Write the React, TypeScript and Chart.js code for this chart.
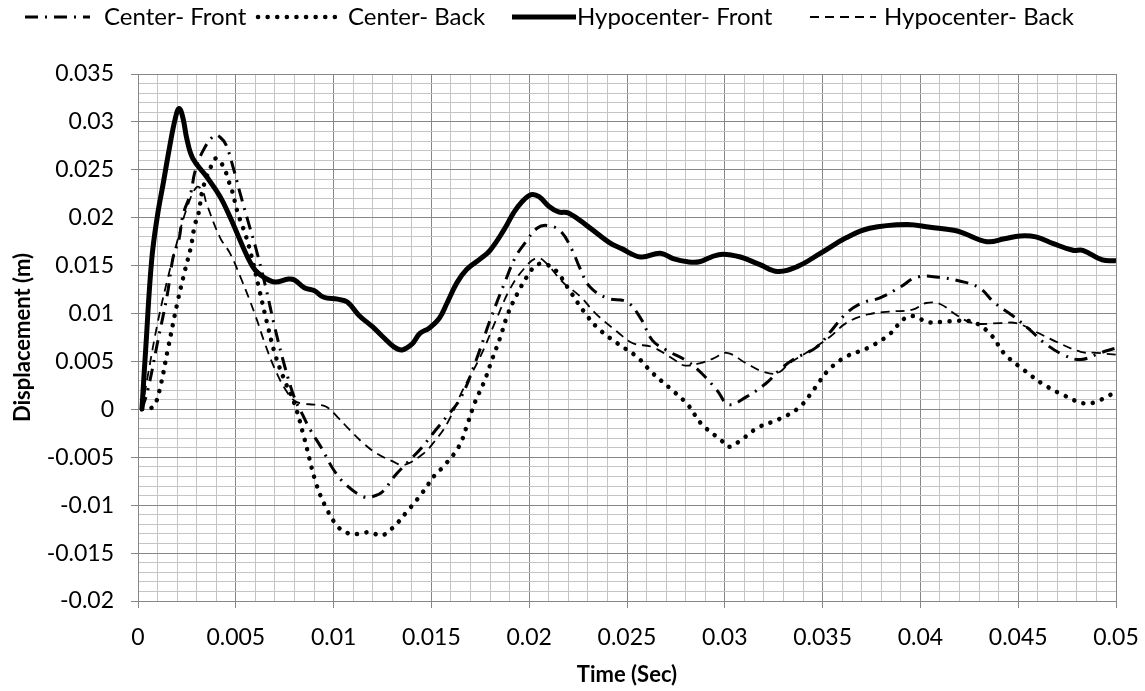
import React, { useEffect, useRef } from "react";
import { Chart, registerables } from "chart.js";

Chart.register(...registerables);

// ---------- data ----------
const SERIES_LABELS = ["Center- Front", "Center- Back", "Hypocenter- Front", "Hypocenter- Back"];

const T_CF = [0.0002, 0.0005, 0.001, 0.0015, 0.0018, 0.0021, 0.0023, 0.0027, 0.0029, 0.0033, 0.0039, 0.0042, 0.0045, 0.0049, 0.0052, 0.0057, 0.006, 0.0065, 0.007, 0.0075, 0.008, 0.0084, 0.0088, 0.0094, 0.01, 0.0106, 0.0115, 0.012, 0.0125, 0.0131, 0.0138, 0.0145, 0.0152, 0.0158, 0.0165, 0.0173, 0.018, 0.0188, 0.0193, 0.0198, 0.0204, 0.0209, 0.0216, 0.0222, 0.0226, 0.0231, 0.024, 0.025, 0.0257, 0.0263, 0.027, 0.0281, 0.0288, 0.0296, 0.0302, 0.0311, 0.0321, 0.0328, 0.0335, 0.0347, 0.0354, 0.0362, 0.037, 0.0379, 0.039, 0.0398, 0.0409, 0.042, 0.043, 0.0438, 0.0447, 0.0456, 0.0463, 0.0473, 0.0482, 0.0492, 0.05];
const Y_CF = [0, 0.002, 0.007, 0.012, 0.0159, 0.0178, 0.0203, 0.0226, 0.0247, 0.0269, 0.0286, 0.0284, 0.0276, 0.025, 0.0227, 0.0191, 0.017, 0.013, 0.0085, 0.0045, 0.0012, -0.0005, -0.0021, -0.0041, -0.0063, -0.0078, -0.0091, -0.0091, -0.0086, -0.007, -0.0055, -0.004, -0.0022, -0.0007, 0.0012, 0.0052, 0.0093, 0.0135, 0.0159, 0.0174, 0.0189, 0.0192, 0.0186, 0.0166, 0.0147, 0.0128, 0.0116, 0.0112, 0.0095, 0.0072, 0.0062, 0.005, 0.0038, 0.002, 0.0005, 0.0013, 0.0027, 0.0041, 0.0052, 0.0065, 0.0081, 0.01, 0.0111, 0.0116, 0.0128, 0.0138, 0.0138, 0.0134, 0.0127, 0.0111, 0.0098, 0.0083, 0.007, 0.0057, 0.0052, 0.0059, 0.0064];

const T_CB = [0.0002, 0.0005, 0.0008, 0.0011, 0.0015, 0.002, 0.0024, 0.0027, 0.0029, 0.0031, 0.0033, 0.0037, 0.004, 0.0044, 0.0046, 0.0048, 0.0051, 0.0055, 0.0058, 0.0062, 0.0066, 0.007, 0.0075, 0.008, 0.0085, 0.0091, 0.0096, 0.0102, 0.0107, 0.0113, 0.0119, 0.0124, 0.013, 0.0137, 0.0145, 0.0152, 0.0156, 0.0164, 0.0168, 0.0172, 0.0177, 0.0181, 0.0185, 0.0189, 0.0194, 0.02, 0.0204, 0.0209, 0.0214, 0.0221, 0.0228, 0.0235, 0.0245, 0.0255, 0.0263, 0.0272, 0.0281, 0.0288, 0.0298, 0.0302, 0.0307, 0.0317, 0.0328, 0.0338, 0.0346, 0.0353, 0.0362, 0.0373, 0.0384, 0.0392, 0.0398, 0.0403, 0.0415, 0.0427, 0.0436, 0.0443, 0.0453, 0.0463, 0.0473, 0.0484, 0.049, 0.0495, 0.05];
const Y_CB = [0, 0.0001, 0.0003, 0.002, 0.006, 0.011, 0.0145, 0.0169, 0.0192, 0.0205, 0.0229, 0.0252, 0.0262, 0.0252, 0.024, 0.0229, 0.0205, 0.0182, 0.016, 0.0125, 0.009, 0.0058, 0.003, 0.0006, -0.003, -0.0077, -0.0102, -0.0122, -0.0129, -0.013, -0.0128, -0.0132, -0.0124, -0.0108, -0.0088, -0.0068, -0.006, -0.0039, -0.0018, 0.0006, 0.0029, 0.0052, 0.0074, 0.0099, 0.0121, 0.0142, 0.0151, 0.0151, 0.0144, 0.0123, 0.0102, 0.0085, 0.0069, 0.0055, 0.0038, 0.0022, 0.0005, -0.0015, -0.0032, -0.0039, -0.0034, -0.0019, -0.001, 0.0002, 0.0022, 0.0041, 0.0055, 0.0064, 0.0078, 0.0095, 0.0097, 0.0091, 0.0092, 0.0091, 0.0078, 0.0058, 0.0041, 0.0026, 0.0015, 0.0006, 0.0008, 0.0013, 0.0018];

const T_HF = [0.0002, 0.0004, 0.0007, 0.001, 0.0013, 0.0016, 0.0019, 0.0021, 0.0023, 0.0025, 0.0028, 0.0035, 0.0042, 0.0047, 0.0056, 0.006, 0.0065, 0.007, 0.0077, 0.008, 0.0085, 0.009, 0.0095, 0.0102, 0.0107, 0.0113, 0.012, 0.0125, 0.0131, 0.0135, 0.014, 0.0144, 0.0149, 0.0154, 0.0158, 0.0163, 0.0168, 0.0175, 0.018, 0.0187, 0.0192, 0.0196, 0.0201, 0.0205, 0.021, 0.0215, 0.022, 0.023, 0.0241, 0.0247, 0.0257, 0.0267, 0.0274, 0.0281, 0.0287, 0.0293, 0.0299, 0.0308, 0.0318, 0.0327, 0.0337, 0.0349, 0.0362, 0.0374, 0.0393, 0.0405, 0.0417, 0.0422, 0.0434, 0.0443, 0.0451, 0.0459, 0.0468, 0.0478, 0.0483, 0.0493, 0.05];
const Y_HF = [0, 0.0065, 0.0156, 0.0203, 0.0237, 0.0272, 0.0303, 0.0314, 0.0304, 0.0282, 0.0262, 0.0243, 0.0222, 0.0201, 0.0159, 0.0145, 0.0137, 0.0133, 0.0136, 0.0135, 0.0127, 0.0124, 0.0117, 0.0115, 0.0112, 0.0098, 0.0086, 0.0076, 0.0065, 0.0062, 0.0068, 0.0079, 0.0085, 0.0095, 0.0111, 0.0132, 0.0146, 0.0157, 0.0166, 0.0187, 0.0205, 0.0216, 0.0224, 0.0222, 0.0212, 0.0206, 0.0205, 0.0191, 0.0174, 0.0168, 0.0159, 0.0163, 0.0157, 0.0154, 0.0154, 0.0159, 0.0162, 0.0159, 0.0151, 0.0144, 0.0149, 0.0163, 0.0179, 0.0189, 0.0193, 0.019, 0.0187, 0.0184, 0.0175, 0.0178, 0.0181, 0.018, 0.0173, 0.0166, 0.0166, 0.0156, 0.0155];

const T_HB = [0.0002, 0.0005, 0.001, 0.0015, 0.002, 0.0025, 0.003, 0.0033, 0.0035, 0.0042, 0.0047, 0.0053, 0.006, 0.0065, 0.007, 0.0075, 0.008, 0.0084, 0.009, 0.0096, 0.0102, 0.0108, 0.0115, 0.0122, 0.013, 0.0136, 0.0146, 0.0151, 0.0158, 0.0166, 0.0175, 0.0183, 0.019, 0.0197, 0.0204, 0.0209, 0.0217, 0.0226, 0.0234, 0.0245, 0.0253, 0.0263, 0.0274, 0.0279, 0.0287, 0.0294, 0.0301, 0.0311, 0.032, 0.0327, 0.0333, 0.0344, 0.0354, 0.0362, 0.0373, 0.0384, 0.0396, 0.0403, 0.041, 0.0418, 0.0427, 0.0441, 0.0449, 0.0459, 0.0469, 0.0482, 0.049, 0.05];
const Y_HB = [0, 0.0035, 0.009, 0.0135, 0.0175, 0.021, 0.0232, 0.0228, 0.0215, 0.0179, 0.0163, 0.0135, 0.0098, 0.0068, 0.0042, 0.0022, 0.0009, 0.0006, 0.0005, 0.0003, -0.0008, -0.0021, -0.0035, -0.0046, -0.0054, -0.0058, -0.0046, -0.0035, -0.0015, 0.002, 0.0055, 0.0093, 0.0125, 0.0146, 0.0158, 0.0152, 0.0133, 0.0118, 0.01, 0.0081, 0.0069, 0.0065, 0.0052, 0.0046, 0.0048, 0.0053, 0.0059, 0.0048, 0.0039, 0.0038, 0.0048, 0.0062, 0.0076, 0.009, 0.0099, 0.0102, 0.0104, 0.0111, 0.011, 0.0099, 0.009, 0.009, 0.009, 0.0081, 0.0071, 0.006, 0.0059, 0.0057];

const X_TICK_LABELS = ["0", "0.005", "0.01", "0.015", "0.02", "0.025", "0.03", "0.035", "0.04", "0.045", "0.05"];
const Y_TICK_LABELS = ["-0.02", "-0.015", "-0.01", "-0.005", "0", "0.005", "0.01", "0.015", "0.02", "0.025", "0.03", "0.035"];

const X_TITLE = "Time (Sec)";
const Y_TITLE = "Displacement (m)";

// ---------- style ----------
const W = 1145;
const H = 691;
const FONT = "Lato";
const MAJOR = "#878787";
const MINOR = "#c4c4c4";

const zip = (t: number[], y: number[]) => t.map((v, i) => ({ x: v, y: y[i] }));

const isMajor = (v: number) => Math.round(v * 1000) % 5 === 0;

const legendPos = [
  { x0: 25, x1: 90, tx: 104 },
  { x0: 258, x1: 340, tx: 348 },
  { x0: 512, x1: 576, tx: 577 },
  { x0: 810, x1: 876, tx: 884 },
];

const legendPlugin = {
  id: "customLegend",
  afterDraw(chart: any) {
    const ctx = chart.ctx;
    const y = 17;
    ctx.save();
    chart.data.datasets.forEach((ds: any, i: number) => {
      const p = legendPos[i];
      ctx.beginPath();
      ctx.strokeStyle = ds.borderColor;
      ctx.lineWidth = ds.borderWidth;
      ctx.lineCap = ds.borderCapStyle || "butt";
      ctx.setLineDash(ds.borderDash || []);
      ctx.moveTo(p.x0, y);
      ctx.lineTo(p.x1, y);
      ctx.stroke();
      ctx.setLineDash([]);
      ctx.fillStyle = "#000";
      ctx.font = `24px ${FONT}`;
      ctx.textAlign = "left";
      ctx.textBaseline = "middle";
      ctx.fillText(ds.label, p.tx, y);
    });
    ctx.restore();
  },
};

export default function App() {
  const ref = useRef<HTMLCanvasElement>(null);

  useEffect(() => {
    document.body.style.margin = "0";
    const canvas = ref.current;
    if (!canvas) return;
    const chart = new Chart(canvas, {
      type: "line",
      data: {
        datasets: [
          {
            label: SERIES_LABELS[0],
            data: zip(T_CF, Y_CF),
            borderColor: "#000",
            borderWidth: 3,
            borderDash: [13, 7, 2, 7],
            borderCapStyle: "butt",
            pointRadius: 0,
            tension: 0.4,
            fill: false,
          },
          {
            label: SERIES_LABELS[1],
            data: zip(T_CB, Y_CB),
            borderColor: "#000",
            borderWidth: 4.5,
            borderDash: [0.1, 9.5],
            borderCapStyle: "round",
            pointRadius: 0,
            tension: 0.4,
            fill: false,
          },
          {
            label: SERIES_LABELS[2],
            data: zip(T_HF, Y_HF),
            borderColor: "#000",
            borderWidth: 5,
            borderCapStyle: "butt",
            pointRadius: 0,
            tension: 0.4,
            fill: false,
          },
          {
            label: SERIES_LABELS[3],
            data: zip(T_HB, Y_HB),
            borderColor: "#000",
            borderWidth: 1.8,
            borderDash: [9, 6],
            borderCapStyle: "butt",
            pointRadius: 0,
            tension: 0.4,
            fill: false,
          },
        ] as any,
      },
      options: {
        responsive: false,
        animation: false,
        devicePixelRatio: 1,
        layout: { padding: { top: 74, right: 29, left: 0, bottom: 0 } },
        plugins: { legend: { display: false }, tooltip: { enabled: false } },
        scales: {
          x: {
            type: "linear",
            min: 0,
            max: 0.05,
            afterBuildTicks: (s: any) => {
              const arr = [];
              for (let i = 0; i <= 50; i++) arr.push({ value: i / 1000 });
              s.ticks = arr;
            },
            afterFit: (s: any) => {
              s.height = 90;
              s.paddingLeft = 0;
              s.paddingRight = 0;
            },
            ticks: {
              autoSkip: false,
              maxRotation: 0,
              minRotation: 0,
              padding: 16,
              color: "#000",
              font: { family: FONT, size: 23 },
              callback: (v: any) => (isMajor(v) ? X_TICK_LABELS[Math.round(v * 200)] : ""),
            },
            grid: {
              color: (c: any) => (isMajor(c.tick.value) ? MAJOR : MINOR),
              lineWidth: 1,
              tickLength: 7,
              tickColor: (c: any) => (isMajor(c.tick.value) ? MAJOR : "rgba(0,0,0,0)"),
            },
            border: { color: MAJOR, width: 1 },
            title: {
              display: true,
              text: X_TITLE,
              color: "#000",
              font: { family: FONT, size: 22, weight: "bold", lineHeight: 1 },
              padding: { top: 0, bottom: 5 },
            },
          },
          y: {
            type: "linear",
            min: -0.02,
            max: 0.035,
            afterBuildTicks: (s: any) => {
              const arr = [];
              for (let i = -20; i <= 35; i++) arr.push({ value: i / 1000 });
              s.ticks = arr;
            },
            afterFit: (s: any) => {
              s.width = 138;
              s.paddingTop = 0;
              s.paddingBottom = 0;
            },
            ticks: {
              autoSkip: false,
              padding: 17,
              color: "#000",
              font: { family: FONT, size: 23 },
              callback: (v: any) => (isMajor(v) ? Y_TICK_LABELS[Math.round(v * 200) + 4] : ""),
            },
            grid: {
              color: (c: any) => (isMajor(c.tick.value) ? MAJOR : MINOR),
              lineWidth: 1,
              tickLength: 7,
              tickColor: (c: any) => (isMajor(c.tick.value) ? MAJOR : "rgba(0,0,0,0)"),
            },
            border: { color: MAJOR, width: 1 },
            title: {
              display: true,
              text: Y_TITLE,
              color: "#000",
              font: { family: FONT, size: 22, weight: "bold", lineHeight: 1 },
              padding: { top: 12, bottom: 0 },
            },
          },
        },
      } as any,
      plugins: [legendPlugin],
    });
    return () => chart.destroy();
  }, []);

  return (
    <div style={{ width: W, height: H, background: "#fff" }}>
      <canvas ref={ref} width={W} height={H} style={{ display: "block", width: W, height: H }} />
    </div>
  );
}
